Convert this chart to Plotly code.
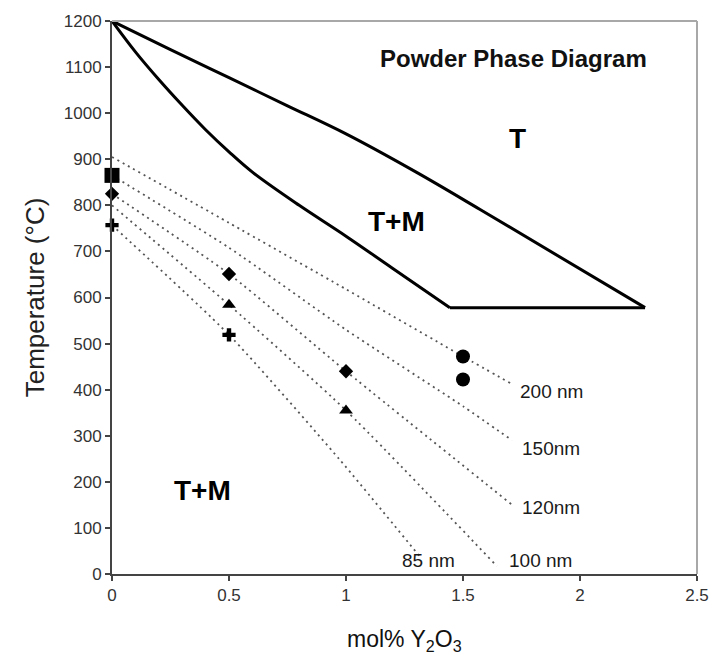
import plotly.graph_objects as go

# Phase boundaries (mol% Y2O3 vs temperature, °C)
upper_x = [0, 0.25, 0.5, 0.75, 1.0, 1.3, 1.573, 2.278]
upper_t = [1200, 1138, 1077, 1016, 955, 872, 791, 578]

lower_x = [0, 0.1, 0.2, 0.3, 0.4, 0.5, 0.6, 0.8, 1.0, 1.2, 1.444]
lower_t = [1200, 1133, 1073, 1017, 964, 916, 872, 800, 733, 663, 578]

# Flat eutectoid segment closing the two-phase field
flat_x = [1.444, 2.278]
flat_t = [578, 578]

# Constant particle-size transformation lines
size_labels = ["200 nm", "150nm", "120nm", "100 nm", "85 nm"]
size_x = [
    [0, 0.5, 1.0, 1.5, 1.71],
    [0, 0.5, 1.0, 1.5, 1.71],
    [0, 0.5, 1.0, 1.71],
    [0, 0.5, 1.0, 1.645],
    [0, 0.5, 0.97, 1.32],
]
size_t = [
    [905, 762, 618, 472, 412],
    [865, 708, 530, 364, 290],
    [825, 651, 440, 150],
    [800, 584, 355, 17],
    [757, 519, 250, 35],
]
label_x = [1.735, 1.744, 1.744, 1.688, 1.231]
label_t = [397, 272, 144, 30, 30]

# Measured transformation points
square_x, square_t = [0], [865]
diamond_x, diamond_t = [0, 0.5, 1.0], [825, 651, 440]
triangle_x, triangle_t = [0.5, 1.0], [584, 355]
plus_x, plus_t = [0, 0.5], [757, 519]
circle_x, circle_t = [1.5, 1.5], [472, 422]

# Region labels
region_text = ["T", "T+M", "T+M"]
region_x = [1.735, 1.214, 0.385]
region_t = [946, 765, 181]

x_ticks = [0, 0.5, 1, 1.5, 2, 2.5]
x_ticktext = ["0", "0.5", "1", "1.5", "2", "2.5"]
y_ticks = list(range(0, 1201, 100))

FONT = "Arial, 'Liberation Sans', sans-serif"

fig = go.Figure()

for xs, ts in zip(size_x, size_t):
    fig.add_trace(go.Scatter(
        x=xs, y=ts, mode="lines", line_shape="spline",
        line=dict(color="#555555", width=1.8, dash="2px,4px", smoothing=0.6),
        hoverinfo="skip", cliponaxis=False,
    ))

for xs, ts in ((upper_x, upper_t), (lower_x, lower_t)):
    fig.add_trace(go.Scatter(
        x=xs, y=ts, mode="lines", line_shape="spline",
        line=dict(color="#000000", width=3, smoothing=1.0),
        hoverinfo="skip", cliponaxis=False,
    ))
fig.add_trace(go.Scatter(
    x=flat_x, y=flat_t, mode="lines",
    line=dict(color="#000000", width=3),
    hoverinfo="skip", cliponaxis=False,
))

markers = [
    (square_x, square_t, "square", 15),
    (diamond_x, diamond_t, "diamond", 11),
    (triangle_x, triangle_t, "triangle-up", 12),
    (plus_x, plus_t, "cross", 11),
    (circle_x, circle_t, "circle", 14),
]
for xs, ts, sym, sz in markers:
    fig.add_trace(go.Scatter(
        x=xs, y=ts, mode="markers",
        marker=dict(symbol=sym, size=sz, color="#000000", line=dict(width=0)),
        cliponaxis=False,
    ))

annotations = []
for txt, xv, tv in zip(size_labels, label_x, label_t):
    annotations.append(dict(
        x=xv, y=tv, xref="x", yref="y", text=txt, showarrow=False,
        xanchor="left", yanchor="middle",
        font=dict(family=FONT, size=19, color="#1a1a1a"),
    ))
for txt, xv, tv in zip(region_text, region_x, region_t):
    annotations.append(dict(
        x=xv, y=tv, xref="x", yref="y", text="<b>" + txt + "</b>", showarrow=False,
        xanchor="center", yanchor="middle",
        font=dict(family=FONT, size=28, color="#000000"),
    ))
annotations.append(dict(
    x=1.714, y=1118, xref="x", yref="y", text="<b>Powder Phase Diagram</b>",
    showarrow=False, xanchor="center", yanchor="middle",
    font=dict(family=FONT, size=24, color="#111111"),
))
annotations.append(dict(
    x=0.5, y=-0.12, xref="paper", yref="paper",
    text="mol% Y<sub>2</sub>O<sub>3</sub>", showarrow=False,
    xanchor="center", yanchor="middle",
    font=dict(family=FONT, size=23, color="#111111"),
))

fig.update_layout(
    width=724, height=665,
    margin=dict(l=112, r=27, t=17, b=91),
    paper_bgcolor="white", plot_bgcolor="white",
    showlegend=False,
    annotations=annotations,
    shapes=[
        dict(type="line", xref="paper", yref="paper", x0=0, x1=1, y0=1, y1=1,
             line=dict(color="#a8a8a8", width=2)),
        dict(type="line", xref="paper", yref="paper", x0=1, x1=1, y0=0, y1=1,
             line=dict(color="#a8a8a8", width=2)),
    ],
)

fig.update_xaxes(
    range=[0, 2.5], tickvals=x_ticks, ticktext=x_ticktext,
    showgrid=False, zeroline=False, showline=True, linecolor="#444444", linewidth=2,
    ticks="outside", ticklen=5, tickwidth=1.5, tickcolor="#444444",
    tickfont=dict(family=FONT, size=17, color="#333333"),
)
fig.update_yaxes(
    range=[0, 1200], tickvals=y_ticks,
    showgrid=False, zeroline=False, showline=True, linecolor="#444444", linewidth=2,
    ticks="outside", ticklen=5, tickwidth=1.5, tickcolor="#444444",
    tickfont=dict(family=FONT, size=17, color="#333333"),
    title=dict(text="Temperature (°C)", standoff=12,
               font=dict(family=FONT, size=26, color="#222222")),
)

fig.write_html("out.html")
